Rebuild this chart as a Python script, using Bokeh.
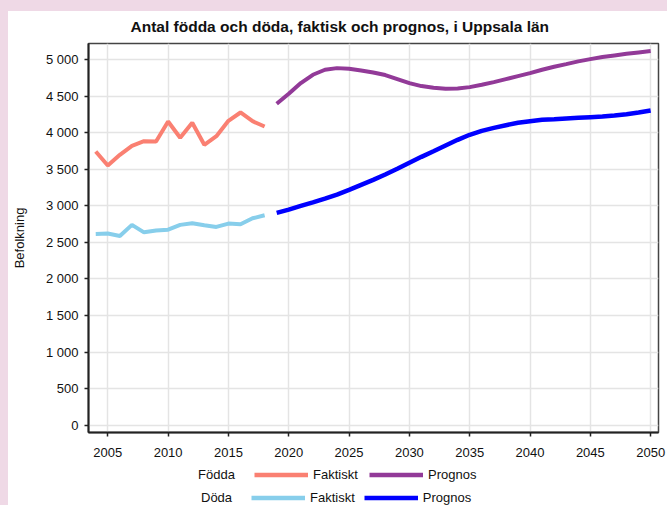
from bokeh.plotting import figure
from bokeh.layouts import column
from bokeh.models import Range1d, FixedTicker, Legend, LegendItem
from bokeh.embed import file_html
from bokeh.resources import INLINE

# ---- data ----
years_hist = list(range(2004, 2019))
fodda_faktiskt = [3744, 3552, 3699, 3822, 3885, 3881, 4155, 3932, 4137, 3836,
                  3953, 4164, 4278, 4159, 4086]
doda_faktiskt = [2616, 2621, 2589, 2740, 2638, 2662, 2675, 2740, 2762, 2734,
                 2712, 2758, 2748, 2830, 2871]

years_prog = list(range(2019, 2051))
fodda_prognos = [4397, 4534, 4680, 4794, 4863, 4885, 4876, 4853, 4826, 4790,
                 4735, 4680, 4639, 4616, 4603, 4607, 4625, 4657, 4694, 4735,
                 4776, 4817, 4863, 4904, 4940, 4977, 5008, 5036, 5059, 5082,
                 5100, 5118]
doda_prognos = [2904, 2949, 3000, 3049, 3100, 3155, 3219, 3288, 3356, 3429,
                3507, 3589, 3671, 3748, 3826, 3904, 3973, 4027, 4068, 4104,
                4137, 4159, 4178, 4186, 4196, 4205, 4214, 4223, 4237, 4255,
                4278, 4305]

x_ticks = list(range(2005, 2051, 5))
y_ticks = list(range(0, 5001, 500))
y_tick_labels = ["0", "500", "1 000", "1 500", "2 000", "2 500", "3 000",
                 "3 500", "4 000", "4 500", "5 000"]

title_text = "Antal födda och döda, faktisk och prognos, i Uppsala län"
y_label = "Befolkning"
row_labels = ["Födda", "Döda"]
series_labels = ["Faktiskt", "Prognos"]

FONT = "Liberation Sans"
c_ff, c_fp, c_df, c_dp = "#fa8072", "#923a98", "#87ceeb", "#0000ff"

# ---- main chart ----
p = figure(width=659, height=449, output_backend="svg", toolbar_location=None,
           x_range=Range1d(2003.4, 2050.65), y_range=Range1d(-101, 5222),
           min_border_left=78, min_border_right=9, min_border_top=32,
           min_border_bottom=28)

p.background_fill_color = "white"
p.border_fill_color = "white"
p.outline_line_color = "#444444"
p.outline_line_width = 1.5

p.title.text = title_text
p.title.text_font = FONT
p.title.text_font_size = "15.5px"
p.title.text_font_style = "bold"
p.title.align = "left"
p.title.offset = 42
p.title.vertical_align = "top"
p.title.standoff = 13
p.title.text_color = "#111111"

for ax in (p.xaxis[0], p.yaxis[0]):
    ax.axis_line_color = "#222222"
    ax.axis_line_width = 2
    ax.major_tick_line_color = "#222222"
    ax.major_tick_line_width = 1.5
    ax.major_tick_out = 4
    ax.major_tick_in = 0
    ax.minor_tick_line_color = None
    ax.major_label_text_font = FONT
    ax.major_label_text_font_size = "13px"
    ax.major_label_text_color = "#111111"
    ax.major_label_standoff = 6

p.xaxis.major_label_standoff = 11
p.xaxis.ticker = FixedTicker(ticks=x_ticks)
p.yaxis.ticker = FixedTicker(ticks=y_ticks)
p.yaxis.major_label_overrides = {t: l for t, l in zip(y_ticks, y_tick_labels)}
p.yaxis.axis_label = y_label
p.yaxis.axis_label_text_font = FONT
p.yaxis.axis_label_text_font_size = "13px"
p.yaxis.axis_label_text_font_style = "normal"
p.yaxis.axis_label_text_color = "#111111"
p.yaxis.axis_label_standoff = 16

p.grid.grid_line_color = "#e4e4e4"
p.grid.grid_line_width = 1.5

p.line(years_hist, fodda_faktiskt, line_color=c_ff, line_width=4)
p.line(years_hist, doda_faktiskt, line_color=c_df, line_width=4)
p.line(years_prog, fodda_prognos, line_color=c_fp, line_width=4)
p.line(years_prog, doda_prognos, line_color=c_dp, line_width=4.5)

# ---- legend strip (own figure, data kept out of view) ----
lf = figure(width=659, height=45, output_backend="svg", toolbar_location=None,
            x_range=Range1d(0, 1), y_range=Range1d(0, 1),
            x_axis_type=None, y_axis_type=None,
            min_border_left=78, min_border_right=9,
            min_border_top=0, min_border_bottom=0,
            styles={"background-color": "white"})
lf.outline_line_color = None
lf.grid.visible = False
lf.background_fill_color = "white"
lf.border_fill_color = "white"

l_ff = lf.line(years_hist, fodda_faktiskt, line_color=c_ff, line_width=4.5)
l_df = lf.line(years_hist, doda_faktiskt, line_color=c_df, line_width=4.5)
l_fp = lf.line(years_prog, fodda_prognos, line_color=c_fp, line_width=4.5)
l_dp = lf.line(years_prog, doda_prognos, line_color=c_dp, line_width=4.5)
l_blank = lf.line(years_hist, fodda_faktiskt, line_alpha=0)

def make_legend(head, r1, r2, loc, lw):
    return Legend(items=[LegendItem(label=head, renderers=[l_blank]),
                         LegendItem(label=series_labels[0], renderers=[r1]),
                         LegendItem(label=series_labels[1], renderers=[r2])],
                  orientation="horizontal", location=loc,
                  glyph_width=54, glyph_height=15, label_height=15,
                  label_width=lw, label_standoff=5,
                  spacing=9, padding=0, margin=0,
                  border_line_color=None, background_fill_alpha=0,
                  label_text_font=FONT, label_text_font_size="13px",
                  label_text_color="#111111")

lf.add_layout(make_legend(row_labels[0], l_ff, l_fp, (51, 23.5), 47))
lf.add_layout(make_legend(row_labels[1], l_df, l_dp, (54, 0.5), 41))

layout = column(p, lf, spacing=0, styles={"background-color": "white"})

html = file_html(layout, INLINE)
html = html.replace("</head>",
                    "<style>html,body{background:#efd9e6;}body{margin:11px 0 0 8px;}</style></head>", 1)
open("out.html", "w").write(html)
